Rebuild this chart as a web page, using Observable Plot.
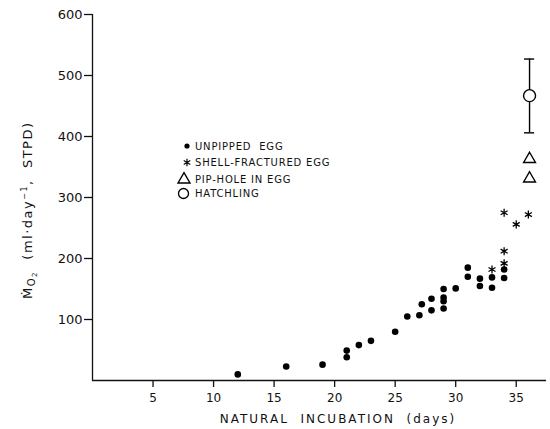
<!DOCTYPE html>
<html><head><meta charset="utf-8">
<script src="https://cdn.jsdelivr.net/npm/d3@7"></script>
<script src="https://cdn.jsdelivr.net/npm/@observablehq/plot@0.6"></script>
<style>
body{margin:0;background:#fff;}
#chart{position:relative;width:550px;height:429px;}
</style></head><body><div id="chart"></div>
<script>
// Unpipped eggs
const unpippedDay = [12,16,19,21,21,22,23,25,26,27,27.2,28,28,29,29,29,29,30,31,31,32,32,33,33,34,34];
const unpippedMo2 = [10,23,26,49,38,58,65,80,105,107,125,134,115,150,136,130,118,151,185,170,167,155,152,169,182,168];
// Shell-fractured eggs
const fracturedDay = [33,34,34,34,35,36];
const fracturedMo2 = [182,192,212,275,256,272];
// Pip-hole in egg
const pipDay = [36.1,36.1];
const pipMo2 = [363,331];
// Hatchling (mean with range)
const hatchDay = [36.1];
const hatchMo2 = [467];
const hatchLo = [406];
const hatchHi = [527];

const xTicks = [5,10,15,20,25,30,35];
const yTicks = [100,200,300,400,500,600];
const legendLabels = ["UNPIPPED  EGG","SHELL-FRACTURED EGG","PIP-HOLE IN EGG","HATCHLING"];
const xTitle = "NATURAL  INCUBATION  (days)";

const unpipped = unpippedDay.map((d,i)=>({day:d, mo2:unpippedMo2[i]}));
const fractured = fracturedDay.map((d,i)=>({day:d, mo2:fracturedMo2[i]}));
const pip = pipDay.map((d,i)=>({day:d, mo2:pipMo2[i]}));
const hatch = hatchDay.map((d,i)=>({day:d, mo2:hatchMo2[i], lo:hatchLo[i], hi:hatchHi[i]}));

const FONT = "DejaVu Sans";
const plot = Plot.plot({
  width:550, height:429,
  marginLeft:92, marginRight:4, marginTop:14, marginBottom:49,
  style:{fontFamily:FONT, fontSize:"12px", color:"#111", background:"#fff", overflow:"visible"},
  x:{domain:[0,37.5]},
  y:{domain:[0,600]},
  marks:[
    Plot.axisX(xTicks, {tickSize:7, tickPadding:6, strokeWidth:1.3, fontSize:12, label:null, style:{letterSpacing:"1.2px"}}),
    Plot.axisY(yTicks, {tickSize:8, tickPadding:2, strokeWidth:1.3, fontSize:13, label:null, style:{letterSpacing:"2.2px"}}),
    Plot.ruleX([0], {y1:0, y2:600, strokeWidth:1.3, stroke:"#111"}),
    Plot.ruleY([0], {x1:0, x2:37.5, strokeWidth:1.3, stroke:"#111"}),
    Plot.dot(unpipped, {x:"day", y:"mo2", r:3.3, fill:"#000", stroke:null}),
    Plot.dot(fractured, {x:"day", y:"mo2", symbol:"asterisk", r:3.8, stroke:"#000", strokeWidth:1.3}),
    Plot.dot(pip, {x:"day", y:"mo2", symbol:"triangle", r:4.4, stroke:"#000", fill:"none", strokeWidth:1.4}),
    Plot.ruleX(hatch, {x:"day", y1:"lo", y2:"hi", strokeWidth:1.4, stroke:"#000"}),
    Plot.ruleY(hatch, {y:"hi", x1:d=>d.day-0.42, x2:d=>d.day+0.42, strokeWidth:1.4, stroke:"#000"}),
    Plot.ruleY(hatch, {y:"lo", x1:d=>d.day-0.42, x2:d=>d.day+0.42, strokeWidth:1.4, stroke:"#000"}),
    Plot.dot(hatch, {x:"day", y:"mo2", r:6, fill:"#fff", stroke:"#000", strokeWidth:1.4})
  ]
});
document.getElementById("chart").appendChild(plot);

const svg = d3.select(plot);
// x-axis title
svg.append("text")
  .attr("x", 338).attr("y", 423)
  .attr("text-anchor","middle")
  .style("font-family", FONT).style("font-size","12px").style("letter-spacing","2px")
  .style("white-space","pre").attr("fill","#111")
  .text(xTitle);

// y-axis title (rotated) with subscript / superscript
const yt = svg.append("text")
  .attr("transform","translate(32,299) rotate(-90)")
  .attr("text-anchor","start")
  .style("font-family", FONT).style("font-size","13px").style("letter-spacing","1.5px")
  .style("white-space","pre").attr("fill","#111");
yt.append("tspan").text("\u1E40");
yt.append("tspan").attr("dy",3).style("font-size","10px").text("O");
yt.append("tspan").attr("dy",2).style("font-size","7px").text("2");
yt.append("tspan").attr("dy",-5).text("  (ml\u00B7day");
yt.append("tspan").attr("dy",-5).style("font-size","8px").text("\u22121");
yt.append("tspan").attr("dy",5).text(",  STPD)");

// Legend
const lg = svg.append("g").attr("text-anchor","start").style("font-family",FONT).style("font-size","10px").style("letter-spacing","0.8px").attr("fill","#111");
const rowsY = [146,162.5,179,193.5];
const symX = 187, txtX = 195;
lg.append("circle").attr("cx",symX).attr("cy",rowsY[0]).attr("r",2.6).attr("fill","#000");
lg.append("path").attr("d", d3.symbol(d3.symbolAsterisk, 40)()).attr("transform",`translate(${symX},${rowsY[1]})`).attr("stroke","#000").attr("stroke-width",1.2).attr("fill","none");
lg.append("path").attr("d", d3.symbol(d3.symbolTriangle, 62)()).attr("transform",`translate(${symX-3},${rowsY[2]+0.5})`).attr("stroke","#000").attr("stroke-width",1.4).attr("fill","none");
lg.append("circle").attr("cx",symX-3.5).attr("cy",rowsY[3]).attr("r",5).attr("fill","none").attr("stroke","#000").attr("stroke-width",1.3);
legendLabels.forEach((t,i)=>{
  lg.append("text").attr("x",txtX).attr("y",rowsY[i]).attr("dy","0.36em").style("white-space","pre").text(t);
});
</script>
</body></html>
